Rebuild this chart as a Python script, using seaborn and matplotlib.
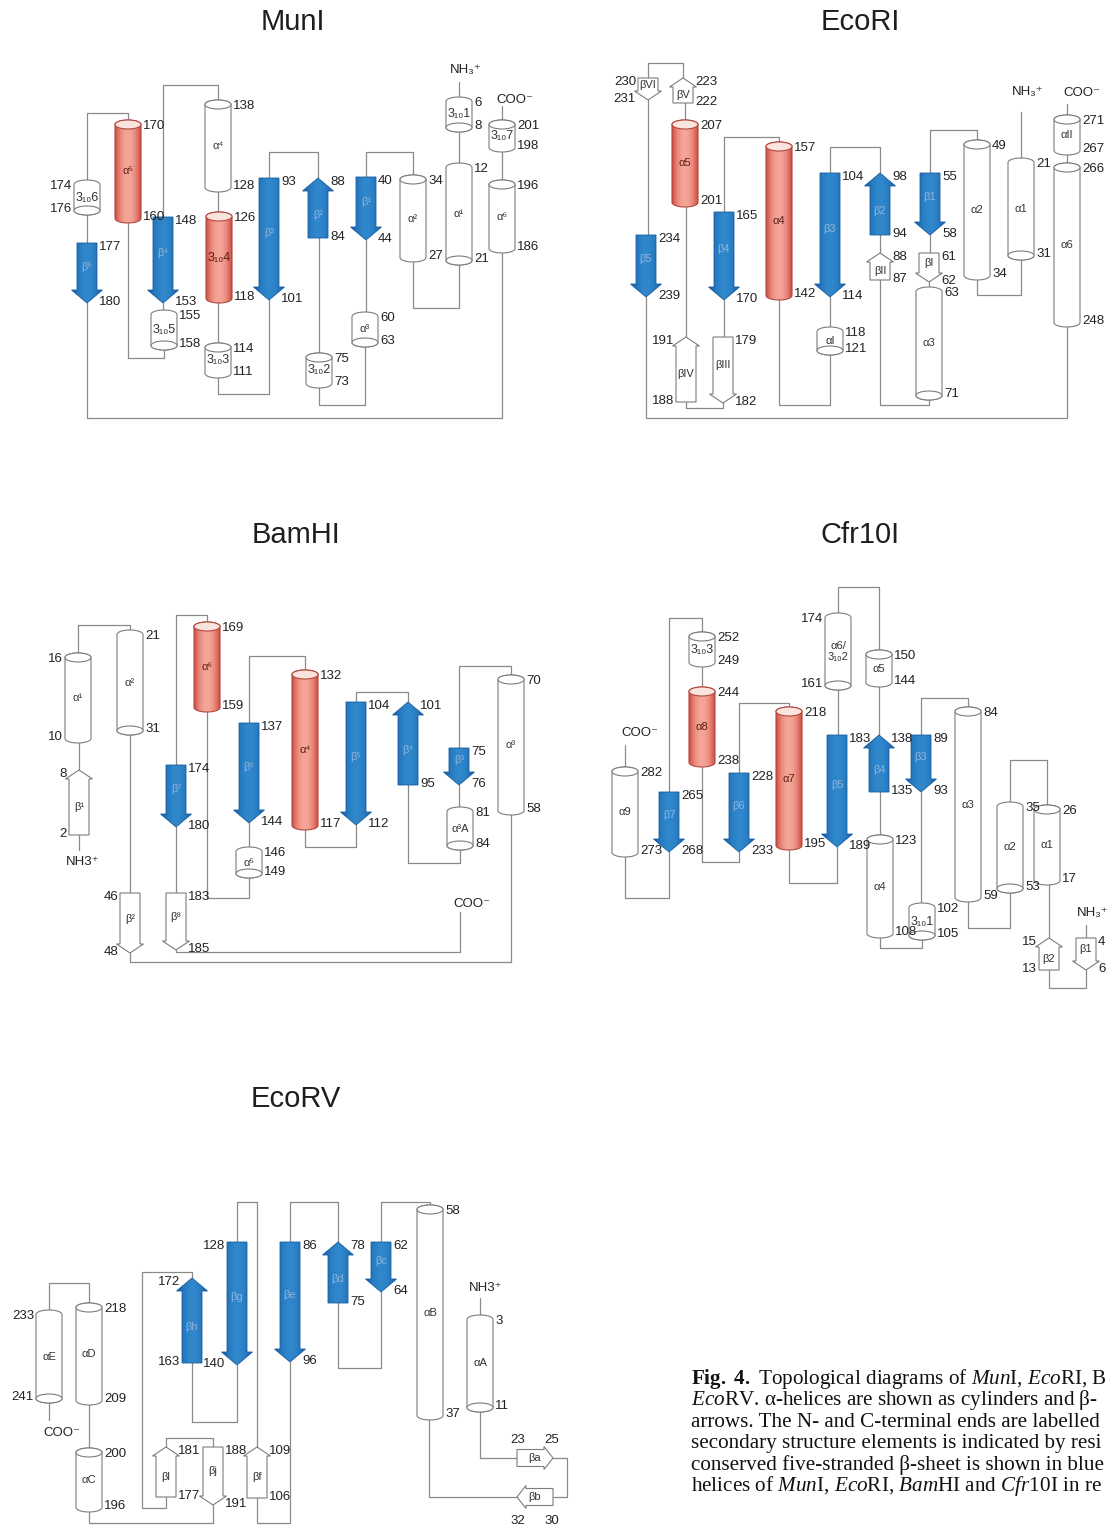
#!/usr/bin/env python3
import numpy as np
import pandas as pd
import matplotlib
matplotlib.use("Agg")
import matplotlib.pyplot as plt
from matplotlib.patches import Polygon, Ellipse
from matplotlib.colors import LinearSegmentedColormap
import seaborn as sns


""" topology diagrams of five restriction enzymes """

titles = ['MunI', 'EcoRI', 'BamHI', 'Cfr10I', 'EcoRV']
title_xy = [(293, 22), (860, 22), (296, 535), (860, 535), (296, 1099)]

# rows: kind, label, x, top, bottom, upper number, lower number, side of numbers
# rT / wT = helix with cap on top, rB / wB = cap at bottom
# bd / bu = blue strand down / up, wd / wu = open strand down / up
munI = [
    ('wB', '3₁₀1', 459, 97, 132, '6', '8', 'R'),
    ('wB', 'α¹', 459, 163, 265, '12', '21', 'R'),
    ('wT', 'α²', 413, 175, 262, '34', '27', 'R'),
    ('bd', 'β¹', 366, 177, 240, '40', '44', 'R'),
    ('wB', 'α³', 365, 312, 347, '60', '63', 'R'),
    ('wT', '3₁₀2', 319, 353, 388, '75', '73', 'R'),
    ('bu', 'β²', 318, 178, 238, '88', '84', 'R'),
    ('bd', 'β³', 269, 178, 300, '93', '101', 'R'),
    ('wT', '3₁₀3', 218, 343, 378, '114', '111', 'R'),
    ('rT', '3₁₀4', 219, 212, 303, '126', '118', 'R'),
    ('wT', 'α⁴', 218, 100, 192, '138', '128', 'R'),
    ('bd', 'β⁴', 163, 217, 303, '148', '153', 'R'),
    ('wB', '3₁₀5', 164, 310, 350, '155', '158', 'R'),
    ('rT', 'α⁵', 128, 120, 223, '170', '160', 'R'),
    ('wB', '3₁₀6', 87, 180, 215, '174', '176', 'L'),
    ('bd', 'β⁵', 87, 243, 303, '177', '180', 'R'),
    ('wT', 'α⁶', 502, 180, 253, '196', '186', 'R'),
    ('wT', '3₁₀7', 502, 120, 152, '201', '198', 'R'),
]
munI_links = [
    [(459, 82), (459, 97)], [(459, 132), (459, 163)],
    [(459, 265), (459, 308), (413, 308), (413, 262)],
    [(413, 175), (413, 152), (366, 152), (366, 177)],
    [(366, 240), (366, 312)],
    [(365, 347), (365, 405), (319, 405), (319, 388)],
    [(319, 353), (319, 238)],
    [(318, 178), (318, 152), (269, 152), (269, 178)],
    [(269, 300), (269, 394), (218, 394), (218, 378)],
    [(218, 343), (218, 303)], [(218, 212), (218, 192)],
    [(218, 100), (218, 85), (163, 85), (163, 217)],
    [(163, 303), (163, 310)],
    [(164, 350), (164, 358), (128, 358), (128, 223)],
    [(128, 120), (128, 113), (87, 113), (87, 180)],
    [(87, 215), (87, 243)],
    [(87, 303), (87, 418), (502, 418), (502, 253)],
    [(502, 180), (502, 152)], [(502, 120), (502, 106)],
]
munI_ends = [('NH₃⁺', 466, 70), ('COO⁻', 515, 100)]

ecoRI = [
    ('wd', 'βVI', 648, 78, 100, '230', '231', 'L'),
    ('wu', 'βV', 683, 78, 103, '223', '222', 'R'),
    ('rT', 'α5', 685, 120, 207, '207', '201', 'R'),
    ('bd', 'β5', 646, 235, 297, '234', '239', 'R'),
    ('bd', 'β4', 724, 212, 300, '165', '170', 'R'),
    ('rT', 'α4', 779, 142, 300, '157', '142', 'R'),
    ('bd', 'β3', 830, 173, 297, '104', '114', 'R'),
    ('wB', 'αI', 830, 327, 355, '118', '121', 'R'),
    ('wu', 'βIV', 686, 337, 402, '191', '188', 'L'),
    ('wd', 'βIII', 723, 337, 403, '179', '182', 'R'),
    ('bu', 'β2', 880, 173, 235, '98', '94', 'R'),
    ('bd', 'β1', 930, 173, 235, '55', '58', 'R'),
    ('wu', 'βII', 880, 253, 280, '88', '87', 'R'),
    ('wd', 'βI', 929, 253, 282, '61', '62', 'R'),
    ('wB', 'α3', 929, 287, 400, '63', '71', 'R'),
    ('wT', 'α2', 977, 140, 280, '49', '34', 'R'),
    ('wB', 'α1', 1021, 158, 260, '21', '31', 'R'),
    ('wT', 'αII', 1067, 115, 155, '271', '267', 'R'),
    ('wT', 'α6', 1067, 163, 327, '266', '248', 'R'),
]
ecoRI_links = [
    [(1021, 112), (1021, 158)],
    [(1021, 260), (1021, 295), (977, 295), (977, 280)],
    [(977, 140), (977, 130), (930, 130), (930, 173)],
    [(930, 235), (930, 253)], [(929, 282), (929, 287)],
    [(929, 400), (929, 405), (880, 405), (880, 280)],
    [(880, 253), (880, 235)],
    [(880, 173), (880, 147), (830, 147), (830, 173)],
    [(830, 297), (830, 327)],
    [(830, 355), (830, 405), (779, 405), (779, 300)],
    [(779, 142), (779, 137), (724, 137), (724, 212)],
    [(724, 300), (724, 337)],
    [(723, 403), (723, 408), (686, 408), (686, 402)],
    [(686, 337), (686, 207)], [(685, 120), (685, 103)],
    [(683, 78), (683, 63), (648, 63), (648, 78)],
    [(648, 100), (648, 235)],
    [(646, 297), (646, 418), (1067, 418), (1067, 327)],
    [(1067, 163), (1067, 155)], [(1067, 115), (1067, 104)],
]
ecoRI_ends = [('NH₃⁺', 1028, 92), ('COO⁻', 1082, 93)]

bamHI = [
    ('wT', 'α¹', 78, 653, 743, '16', '10', 'L'),
    ('wB', 'α²', 130, 630, 735, '21', '31', 'R'),
    ('wu', 'β¹', 79, 770, 835, '8', '2', 'L'),
    ('wd', 'β²', 130, 893, 953, '46', '48', 'L'),
    ('wT', 'α³', 511, 675, 815, '70', '58', 'R'),
    ('bd', 'β³', 459, 748, 785, '75', '76', 'R'),
    ('wB', 'α³A', 460, 807, 850, '81', '84', 'R'),
    ('bu', 'β⁴', 408, 702, 785, '101', '95', 'R'),
    ('bd', 'β⁵', 356, 702, 825, '104', '112', 'R'),
    ('rT', 'α⁴', 305, 670, 830, '132', '117', 'R'),
    ('bd', 'β⁶', 249, 723, 823, '137', '144', 'R'),
    ('wB', 'α⁵', 249, 847, 878, '146', '149', 'R'),
    ('rT', 'α⁶', 207, 622, 712, '169', '159', 'R'),
    ('bd', 'β⁷', 176, 765, 827, '174', '180', 'R'),
    ('wd', 'β⁸', 176, 893, 950, '183', '185', 'R'),
]
bamHI_links = [
    [(79, 850), (79, 835)], [(79, 770), (79, 743)],
    [(78, 653), (78, 625), (130, 625), (130, 630)],
    [(130, 735), (130, 893)],
    [(130, 953), (130, 962), (511, 962), (511, 815)],
    [(511, 675), (511, 666), (459, 666), (459, 748)],
    [(459, 785), (459, 807)],
    [(460, 850), (460, 863), (408, 863), (408, 785)],
    [(408, 702), (408, 692), (356, 692), (356, 702)],
    [(356, 825), (356, 847), (305, 847), (305, 830)],
    [(305, 670), (305, 656), (249, 656), (249, 723)],
    [(249, 823), (249, 847)],
    [(249, 878), (249, 898), (207, 898), (207, 712)],
    [(207, 622), (207, 615), (176, 615), (176, 765)],
    [(176, 827), (176, 893)],
    [(176, 950), (176, 952), (460, 952), (460, 912)],
]
bamHI_ends = [('NH3⁺', 83, 862), ('COO⁻', 472, 904)]

cfr10I = [
    ('wT', '3₁₀3', 702, 632, 667, '252', '249', 'R'),
    ('rT', 'α8', 702, 687, 767, '244', '238', 'R'),
    ('wT', 'α9', 625, 767, 857, '282', '273', 'R'),
    ('bd', 'β7', 669, 792, 852, '265', '268', 'R'),
    ('bd', 'β6', 739, 773, 852, '228', '233', 'R'),
    ('rT', 'α7', 789, 707, 850, '218', '195', 'R'),
    ('wB', 'α6/\n3₁₀2', 838, 613, 690, '174', '161', 'L'),
    ('bd', 'β5', 837, 735, 847, '183', '189', 'R'),
    ('wT', 'α5', 879, 650, 687, '150', '144', 'R'),
    ('bu', 'β4', 879, 735, 792, '138', '135', 'R'),
    ('bd', 'β3', 921, 735, 792, '89', '93', 'R'),
    ('wT', 'α4', 880, 835, 938, '123', '108', 'R'),
    ('wB', '3₁₀1', 922, 903, 940, '102', '105', 'R'),
    ('wT', 'α3', 968, 707, 902, '84', '59', 'R'),
    ('wB', 'α2', 1010, 802, 893, '35', '53', 'R'),
    ('wT', 'α1', 1047, 805, 885, '26', '17', 'R'),
    ('wu', 'β2', 1049, 938, 970, '15', '13', 'L'),
    ('wd', 'β1', 1086, 938, 970, '4', '6', 'R'),
]
cfr10I_links = [
    [(1086, 925), (1086, 938)],
    [(1086, 970), (1086, 988), (1049, 988), (1049, 970)],
    [(1049, 938), (1049, 885)],
    [(1047, 805), (1047, 760), (1010, 760), (1010, 802)],
    [(1010, 893), (1010, 928), (968, 928), (968, 902)],
    [(968, 707), (968, 698), (921, 698), (921, 735)],
    [(921, 792), (921, 903)],
    [(922, 940), (922, 948), (880, 948), (880, 938)],
    [(880, 835), (880, 792)], [(879, 735), (879, 687)],
    [(879, 650), (879, 587), (838, 587), (838, 613)],
    [(838, 690), (838, 735)],
    [(837, 847), (837, 883), (789, 883), (789, 850)],
    [(789, 707), (789, 703), (739, 703), (739, 773)],
    [(739, 852), (739, 862), (702, 862), (702, 767)],
    [(702, 687), (702, 667)],
    [(702, 632), (702, 618), (669, 618), (669, 792)],
    [(669, 852), (669, 898), (625, 898), (625, 857)],
    [(625, 767), (625, 745)],
]
cfr10I_ends = [('NH₃⁺', 1093, 913), ('COO⁻', 640, 733)]

ecoRV = [
    ('wB', 'αE', 49, 1310, 1403, '233', '241', 'L'),
    ('wT', 'αD', 89, 1303, 1405, '218', '209', 'R'),
    ('wT', 'αC', 89, 1448, 1512, '200', '196', 'R'),
    ('bu', 'βh', 192, 1278, 1363, '172', '163', 'L'),
    ('bd', 'βg', 237, 1242, 1365, '128', '140', 'L'),
    ('bd', 'βe', 290, 1242, 1362, '86', '96', 'R'),
    ('wu', 'βl', 166, 1447, 1497, '181', '177', 'R'),
    ('wd', 'βj', 213, 1447, 1505, '188', '191', 'R'),
    ('wu', 'βf', 257, 1447, 1498, '109', '106', 'R'),
    ('bu', 'βd', 338, 1242, 1303, '78', '75', 'R'),
    ('bd', 'βc', 381, 1242, 1292, '62', '64', 'R'),
    ('wT', 'αB', 430, 1205, 1420, '58', '37', 'R'),
    ('wB', 'αA', 480, 1315, 1412, '3', '11', 'R'),
]
# sideways strands: label, direction, left, right, y, left number, right number, number row
ecoRV_flat = [
    ('βa', 'r', 517, 553, 1458, '23', '25', 1440),
    ('βb', 'l', 517, 553, 1497, '32', '30', 1521),
]
ecoRV_links = [
    [(480, 1298), (480, 1315)],
    [(480, 1412), (480, 1458), (517, 1458)],
    [(553, 1458), (567, 1458), (567, 1497), (553, 1497)],
    [(517, 1497), (429, 1497), (429, 1420)],
    [(430, 1205), (430, 1202), (381, 1202), (381, 1242)],
    [(381, 1292), (381, 1368), (338, 1368), (338, 1303)],
    [(338, 1242), (338, 1202), (290, 1202), (290, 1242)],
    [(290, 1362), (290, 1523), (257, 1523), (257, 1498)],
    [(257, 1447), (257, 1202), (237, 1202), (237, 1242)],
    [(237, 1365), (237, 1422), (192, 1422), (192, 1363)],
    [(192, 1278), (192, 1272), (142, 1272), (142, 1508), (166, 1508), (166, 1497)],
    [(166, 1447), (166, 1438), (213, 1438), (213, 1447)],
    [(213, 1505), (213, 1523), (89, 1523), (89, 1512)],
    [(89, 1448), (89, 1405)],
    [(89, 1303), (89, 1283), (49, 1283), (49, 1310)],
    [(49, 1403), (49, 1420)],
]
ecoRV_ends = [('NH3⁺', 486, 1288), ('COO⁻', 62, 1433)]

# the caption runs off the right edge in the source, only the visible part is kept
caption = [
    r"$\mathbf{Fig.}$ $\mathbf{4.}$ Topological diagrams of $\mathit{Mun}$I, $\mathit{Eco}$RI, B",
    r"$\mathit{Eco}$RV. α-helices are shown as cylinders and β-",
    "arrows. The N- and C-terminal ends are labelled",
    "secondary structure elements is indicated by resi",
    "conserved five-stranded β-sheet is shown in blue",
    r"helices of $\mathit{Mun}$I, $\mathit{Eco}$RI, $\mathit{Bam}$HI and $\mathit{Cfr}$10I in re",
]

""" drawing """

sns.set_theme(style="white")
plt.rcParams['font.family'] = ['Liberation Sans', 'DejaVu Sans']
plt.rcParams['mathtext.fontset'] = 'custom'
plt.rcParams['mathtext.rm'] = 'Liberation Serif'
plt.rcParams['mathtext.it'] = 'Liberation Serif:italic'
plt.rcParams['mathtext.bf'] = 'Liberation Serif:bold'

red_cm = LinearSegmentedColormap.from_list('red', ['#cf4a40', '#f5a698'])
blue_cm = LinearSegmentedColormap.from_list('blue', ['#125aa6', '#3087cb'])
grey = '#7d7d7d'
num_kw = dict(fontsize=9.5, color='#222222', va='center')

fig = plt.figure(figsize=(11.08, 15.28), dpi=100)
ax = fig.add_axes([0, 0, 1, 1])


def shade(patch, x0, x1, y0, y1, cmap):
    g = 1 - np.linspace(-1, 1, 64) ** 2
    im = ax.imshow(g[None, :], cmap=cmap, vmin=0, vmax=1, extent=(x0, x1, y1, y0),
                   aspect='auto', interpolation='bilinear', zorder=3)
    im.set_clip_path(patch)


def cylinder(kind, label, x, y0, y1, w=26, e=4.5):
    t = np.linspace(0, np.pi, 30)
    top = np.column_stack([x + w / 2 * np.cos(t), y0 + e - e * np.sin(t)])
    t2 = np.linspace(np.pi, 2 * np.pi, 30)
    bot = np.column_stack([x + w / 2 * np.cos(t2), y1 - e - e * np.sin(t2)])
    red = kind[0] == 'r'
    body = Polygon(np.vstack([top, bot]), closed=True, zorder=4, lw=0.8,
                   fc='none' if red else 'white', ec='#b04a40' if red else grey)
    ax.add_patch(body)
    if red:
        shade(body, x - w / 2, x + w / 2, y0, y1, red_cm)
    cy = y0 + e if kind[1] == 'T' else y1 - e
    ax.add_patch(Ellipse((x, cy), w, 2 * e, zorder=5, lw=0.8,
                         fc='#fbe3de' if red else 'white', ec='#b04a40' if red else grey))
    size = 9 if label.startswith('3') else 8
    ax.text(x, (y0 + y1) / 2, label, ha='center', va='center', fontsize=size,
            color='#5a1d16' if red else '#333333', zorder=6, linespacing=1.1)


def strand(kind, label, x, y0, y1):
    blue = kind[0] == 'b'
    bw, hw, hl = (20, 31, 13) if blue else (20, 27, 9)
    if kind[1] == 'd':
        pts = [(x - bw / 2, y0), (x + bw / 2, y0), (x + bw / 2, y1 - hl), (x + hw / 2, y1 - hl),
               (x, y1), (x - hw / 2, y1 - hl), (x - bw / 2, y1 - hl)]
        ly = (y0 + y1 - hl) / 2
    else:
        pts = [(x - bw / 2, y1), (x + bw / 2, y1), (x + bw / 2, y0 + hl), (x + hw / 2, y0 + hl),
               (x, y0), (x - hw / 2, y0 + hl), (x - bw / 2, y0 + hl)]
        ly = (y0 + y1 + hl) / 2
    arrow = Polygon(pts, closed=True, zorder=4, lw=0.6 if blue else 0.8,
                    fc='none' if blue else 'white', ec='#1a5d9e' if blue else grey)
    ax.add_patch(arrow)
    if blue:
        shade(arrow, x - hw / 2, x + hw / 2, y0, y1, blue_cm)
    ax.text(x, ly, label, ha='center', va='center', fontsize=8,
            color='#8fb3dc' if blue else '#333333', zorder=6)


def flat_strand(label, d, x0, x1, y, h=17, hh=23, hl=9):
    if d == 'r':
        pts = [(x0, y - h / 2), (x1 - hl, y - h / 2), (x1 - hl, y - hh / 2), (x1, y),
               (x1 - hl, y + hh / 2), (x1 - hl, y + h / 2), (x0, y + h / 2)]
    else:
        pts = [(x1, y - h / 2), (x0 + hl, y - h / 2), (x0 + hl, y - hh / 2), (x0, y),
               (x0 + hl, y + hh / 2), (x0 + hl, y + h / 2), (x1, y + h / 2)]
    ax.add_patch(Polygon(pts, closed=True, zorder=4, lw=0.8, fc='white', ec=grey))
    ax.text((x0 + x1) / 2, y, label, ha='center', va='center', fontsize=8,
            color='#333333', zorder=6)


def panel(elems, links, ends, seg0):
    rows = []
    for k, path in enumerate(links):
        for px, py in path:
            rows.append({'x': px, 'y': py, 'seg': seg0 + k})
    for kind, label, x, y0, y1, n0, n1, side in elems:
        helix = kind[1] in 'TB'
        if helix:
            cylinder(kind, label, x, y0, y1)
            half, d0, d1 = 13, 6, -6
        else:
            strand(kind, label, x, y0, y1)
            half, d0, d1 = 10, 4, -1
        if side == 'R':
            xx, ha = x + half + 2, 'left'
        else:
            xx, ha = x - half - 2, 'right'
        ax.text(xx, y0 + d0, n0, ha=ha, zorder=6, **num_kw)
        ax.text(xx, y1 + d1, n1, ha=ha, zorder=6, **num_kw)
    for txt, tx, ty in ends:
        ax.text(tx, ty, txt, ha='center', zorder=6, **num_kw)
    return rows


segs = []
segs += panel(munI, munI_links, munI_ends, 0)
segs += panel(ecoRI, ecoRI_links, ecoRI_ends, 100)
segs += panel(bamHI, bamHI_links, bamHI_ends, 200)
segs += panel(cfr10I, cfr10I_links, cfr10I_ends, 300)
segs += panel(ecoRV, ecoRV_links, ecoRV_ends, 400)
for label, d, x0, x1, y, n0, n1, ny in ecoRV_flat:
    flat_strand(label, d, x0, x1, y)
    ax.text(x0 + 1, ny, n0, ha='center', zorder=6, **num_kw)
    ax.text(x1 - 1, ny, n1, ha='center', zorder=6, **num_kw)

links_df = pd.DataFrame(segs)
sns.lineplot(data=links_df, x='x', y='y', units='seg', estimator=None, sort=False,
             color='#8a8a8a', linewidth=0.9, legend=False, ax=ax, zorder=1)

for name, (tx, ty) in zip(titles, title_xy):
    ax.text(tx, ty, name, ha='center', va='center', fontsize=21, color='#1e1e1e')

for i, line in enumerate(caption):
    ax.text(691, 1384 + i * 21.4, line, ha='left', va='baseline', fontsize=15.2,
            family='Liberation Serif', color='#111111')

ax.set_xlim(0, 1108)
ax.set_ylim(1528, 0)
ax.axis('off')
fig.savefig('out.png', dpi=100)
